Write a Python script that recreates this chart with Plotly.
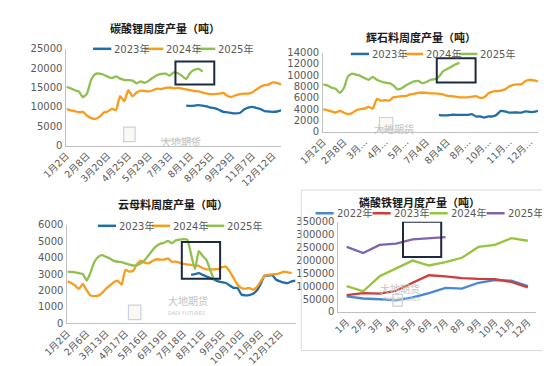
import plotly.graph_objects as go

W, H = 550, 366

# ---------------- data ----------------
# Chart 1: 碳酸锂周度产量（吨）  (weekly index 0..52)
c1_ticks = ["1月2日", "2月8日", "3月20日", "4月25日", "5月29日", "7月3日",
            "8月1日", "8月25日", "9月29日", "11月7日", "12月12日"]
c1_2023 = [None] * 29 + [10300, 10250, 10300, 10450, 10300, 10100, 9800, 9600, 9200, 8700,
                         8600, 8400, 8300, 8400, 9300, 9800, 10000, 9700, 9400, 8900,
                         8800, 8700, 8800, 9100]
c1_2024 = [9400, 9100, 8900, 8600, 8700, 7700, 7100, 6900, 7400, 8500,
           8800, 9500, 9200, 12800, 11500, 14300, 12700, 13700, 14200, 14100,
           14000, 14300, 14700, 14600, 14900, 15000, 14800, 14900, 14700, 14500,
           14300, 14100, 14000, 13700, 13400, 13300, 13300, 13400, 13600, 12800,
           12600, 13000, 13300, 13400, 13400, 13700, 14500, 15200, 15600, 15800,
           16300, 16200, 15700]
c1_2025 = [15200, 14800, 14300, 14000, 12500, 13500, 17000, 18500, 18600, 18300,
           17800, 17400, 17900, 17300, 17000, 16900, 16800, 16100, 16600, 16200,
           16800, 17600, 18200, 18500, 18600, 18100, 18900, 18700, 18000, 17200,
           18800, 19600, 19800, 19100]

# Chart 2: 辉石料周度产量（吨）
c2_ticks = ["1月2日", "2月8日", "3月...", "4月...", "5月...", "7月4日",
            "8月4日", "8月...", "10月...", "11月...", "12月..."]
c2_2023 = [None] * 28 + [3000, 2900, 2900, 3000, 3000, 3000, 3000, 3000, 3100, 2700,
                         2700, 2500, 2700, 2700, 3000, 3700, 3600, 3400, 3400, 3400,
                         3400, 3600, 3500, 3500, 3700]
c2_2024 = [4000, 3800, 3600, 3400, 3700, 3400, 3100, 3300, 3800, 4000,
           4100, 4400, 4100, 5800, 5500, 5600, 5500, 6100, 6200, 6300,
           6300, 6600, 6700, 6900, 6900, 6900, 6800, 6800, 6700, 6600,
           6400, 6300, 6200, 6100, 6100, 6100, 6200, 6300, 6000, 6100,
           6800, 7100, 7200, 7300, 7500, 8000, 8300, 8400, 8400, 9000,
           9200, 9100, 8900]
c2_2025 = [8400, 8200, 7800, 7600, 6900, 7700, 9800, 10300, 10100, 9900,
           9500, 9200, 9700, 9200, 8900, 8700, 8600, 8200, 7500, 7700,
           8200, 8600, 8900, 9000, 8600, 8800, 9200, 9300, 9700, 10700,
           11100, 11500, 11900, 12200]

# Chart 3: 云母料周度产量（吨）
c3_ticks = ["1月2日", "2月6日", "3月13日", "4月17日", "5月16日", "6月19日",
            "7月18日", "8月11日", "9月5日", "10月10日", "11月9日", "12月12日"]
c3_2023 = [None] * 32 + [2950, 3000, 3050, 2950, 2850, 2750, 2650, 2550, 2500, 2450,
                         2300, 2150, 2150, 1750, 1700, 1720, 1800, 2000, 2400, 2900,
                         2900, 2930, 2650, 2550, 2480, 2450, 2550, 2600]
c3_2024 = [2550, 2450, 2300, 2100, 2400, 2000, 1700, 1650, 1680, 1850,
           2100, 2300, 2500, 2600, 2350, 3250, 3150, 3200, 3600, 3800,
           3700, 3650, 3800, 3900, 3880, 3880, 3950, 3750, 3760, 3700,
           3620, 3580, 3560, 3530, 3500, 3350, 3290, 3280, 3290, 3300,
           3420, 3450, 3150, 2750, 2350, 2150, 2100, 2150, 2050, 2200,
           2550, 2900, 2950, 2980, 3000, 3050, 3150, 3100, 3050]
c3_2025 = [3150, 3130, 3100, 3050, 3000, 2600, 3100, 3750, 4050, 4150,
           4050, 3950, 3800, 3750, 3720, 3650, 3580, 3520, 3540, 3650,
           3850, 4150, 4450, 4700, 4850, 4900, 5020, 4880, 5050, 5100,
           5130, 5100, 4200, 3300, 4400, 4100, 3850, 3200, 2600]

# Chart 4: 磷酸铁锂月度产量（吨）
months = ["1月", "2月", "3月", "4月", "5月", "6月", "7月", "8月", "9月", "10月", "11月", "12月"]
lfp_2022 = [60000, 52000, 49000, 45000, 56000, 73000, 93000, 90000, 113000, 123000, 121000, 100000]
lfp_2023 = [65000, 73000, 71000, 82000, 113000, 142000, 138000, 131000, 128000, 127000, 116000, 95000]
lfp_2024 = [100000, 80000, 138000, 168000, 199000, 180000, 193000, 210000, 252000, 260000, 286000, 276000]
lfp_2025 = [252000, 228000, 260000, 265000, 281000, 285000, 290000]

# ---------------- style ----------------
BLUE, ORANGE, GREEN = "#1F6EA8", "#F99C1C", "#8FC04F"
B22, R23, G24, P25 = "#4A86D6", "#D03C37", "#97C43E", "#8062AE"
BOX = "#1B2A41"
AXC = "#BFBFBF"
TXT = "#595959"
FONT = "DejaVu Sans, Noto Sans CJK SC, sans-serif"
TFONT = "Noto Sans CJK SC, sans-serif"


def X(px):
    return px / W


def Y(py):
    return 1 - py / H


fig = go.Figure()


def add_lines(series, colors, names, xa, ya, shape):
    for s, c, n in zip(series, colors, names):
        fig.add_trace(go.Scatter(
            x=list(range(len(s))), y=s, mode="lines", name=n,
            line=dict(color=c, width=2.3, shape=shape, smoothing=0.5),
            connectgaps=False, xaxis=xa, yaxis=ya, showlegend=False,
            hoverinfo="skip"))


names3 = ["2023年", "2024年", "2025年"]
add_lines([c1_2023, c1_2024, c1_2025], [BLUE, ORANGE, GREEN], names3, "x", "y", "spline")
add_lines([c2_2023, c2_2024, c2_2025], [BLUE, ORANGE, GREEN], names3, "x2", "y2", "spline")
add_lines([c3_2023, c3_2024, c3_2025], [BLUE, ORANGE, GREEN], names3, "x3", "y3", "spline")

for s, c, n in zip([lfp_2022, lfp_2023, lfp_2024, lfp_2025], [B22, R23, G24, P25],
                   ["2022年", "2023年", "2024年", "2025年"]):
    fig.add_trace(go.Scatter(x=months[:len(s)], y=s, mode="lines", name=n,
                             line=dict(color=c, width=2.3), xaxis="x4", yaxis="y4",
                             showlegend=False, hoverinfo="skip"))

axis_common = dict(showline=True, linecolor=AXC, linewidth=1, showgrid=False,
                   zeroline=False, ticks="", tickfont=dict(family=FONT, size=9.5, color=TXT))


def xax(domain, rng, tickvals, ticktext, anchor):
    d = dict(axis_common)
    d.update(domain=domain, range=rng, tickmode="array", tickvals=tickvals,
             ticktext=ticktext, tickangle=-45, anchor=anchor)
    return d


def yax(domain, rng, dtick, anchor):
    d = dict(axis_common)
    d.update(domain=domain, range=rng, dtick=dtick, anchor=anchor, ticklabelstandoff=1,
             tickformat="d", tickfont=dict(family=FONT, size=10, color=TXT))
    return d


fig.update_layout(
    width=W, height=H, margin=dict(l=0, r=0, t=0, b=0),
    paper_bgcolor="white", plot_bgcolor="white", showlegend=False,
    xaxis=xax([X(35), X(260)], [0, len(c1_2024) - 1], list(range(0, 51, 5)), c1_ticks, "y"),
    yaxis=yax([Y(136), Y(36)], [0, 25000], 5000, "x"),
    xaxis2=xax([X(304), X(529)], [0, len(c2_2024) - 1], list(range(0, 51, 5)), c2_ticks, "y2"),
    yaxis2=yax([Y(121.7), Y(40)], [0, 14000], 2000, "x2"),
    xaxis3=xax([X(36), X(275)], [0, len(c3_2023) - 1], list(range(0, 56, 5)), c3_ticks, "y3"),
    yaxis3=yax([Y(319.7), Y(218)], [0, 6000], 1000, "x3"),
    xaxis4=dict(axis_common, domain=[X(320), X(527)], range=[-0.5, 11.5], type="category",
                categoryorder="array", categoryarray=months, tickangle=-45, anchor="y4"),
    yaxis4=yax([Y(308), Y(214.7)], [0, 350000], 50000, "x4"),
)

shapes = []
ann = []

# outer frame of chart 4
shapes.append(dict(type="rect", xref="paper", yref="paper", x0=X(281), x1=X(534),
                   y0=Y(348), y1=Y(182), line=dict(color="#D9D9D9", width=1)))

# highlight boxes (data coordinates)
for xr, yr, x0, x1, y0, y1 in [("x", "y", 26.4, 35.8, 15800, 21750),
                                ("x2", "y2", 27.5, 36.9, 8740, 13030),
                                ("x3", "y3", 29.6, 39.5, 2710, 4960),
                                ("x4", "y4", 3.42, 5.74, 212600, 350000)]:
    shapes.append(dict(type="rect", xref=xr, yref=yr, x0=x0, x1=x1, y0=y0, y1=y1,
                       line=dict(color=BOX, width=2)))

# titles
for txt, cx, cy in [("碳酸锂周度产量（吨）", 138, 14), ("辉石料周度产量（吨）", 406, 24),
                    ("云母料周度产量（吨）", 147, 196), ("磷酸铁锂月度产量（吨）", 405, 194)]:
    ann.append(dict(text="<b>%s</b>" % txt, x=X(cx), y=Y(cy), xref="paper", yref="paper",
                    showarrow=False, xanchor="center", yanchor="middle",
                    font=dict(family=TFONT, size=11, color="#1a1a1a")))

# legends (drawn manually to match the compact Excel layout)
legend_specs = [
    (63, 36, 54.5, names3, [BLUE, ORANGE, GREEN]),
    (333, 41.3, 56.7, names3, [BLUE, ORANGE, GREEN]),
    (68, 219, 56.7, names3, [BLUE, ORANGE, GREEN]),
    (296, 206, 59.7, ["2022年", "2023年", "2024年", "2025年"], [B22, R23, G24, P25]),
]
for sx, ly, pitch, nm, cols in legend_specs:
    for i, (n, c) in enumerate(zip(nm, cols)):
        lx = sx + i * pitch
        shapes.append(dict(type="line", xref="paper", yref="paper", x0=X(lx), x1=X(lx + 19),
                           y0=Y(ly), y1=Y(ly), line=dict(color=c, width=2.5)))
        ann.append(dict(text=n, x=X(lx + 20), y=Y(ly), xref="paper", yref="paper",
                        showarrow=False, xanchor="left", yanchor="middle",
                        font=dict(family=FONT, size=10, color=TXT)))

# watermarks
for lx0, ly0, lx1, ly1, tx, ty, dy in [(95, 117, 107, 132, 132, 122, 8),
                                        (363, 107, 377, 119, 401, 109, 7),
                                        (100, 301, 113, 316, 139, 306, 8),
                                        (377, 290, 387, 302, 407, 294, 6)]:
    shapes.append(dict(type="rect", xref="paper", yref="paper", x0=X(lx0), x1=X(lx1),
                       y0=Y(ly1), y1=Y(ly0), line=dict(color="#C9D2E0", width=1.2),
                       fillcolor="rgba(240,235,220,0.3)"))
    ann.append(dict(text="大地期货", x=X(tx), y=Y(ty), xref="paper", yref="paper",
                    showarrow=False, font=dict(family=TFONT, size=10, color="#C4C4C4")))
    ann.append(dict(text="DADI FUTURES", x=X(tx), y=Y(ty + dy), xref="paper", yref="paper",
                    showarrow=False, font=dict(family=FONT, size=5, color="#C8C8C8")))

fig.update_layout(shapes=shapes, annotations=ann)
fig.write_html("out.html")
